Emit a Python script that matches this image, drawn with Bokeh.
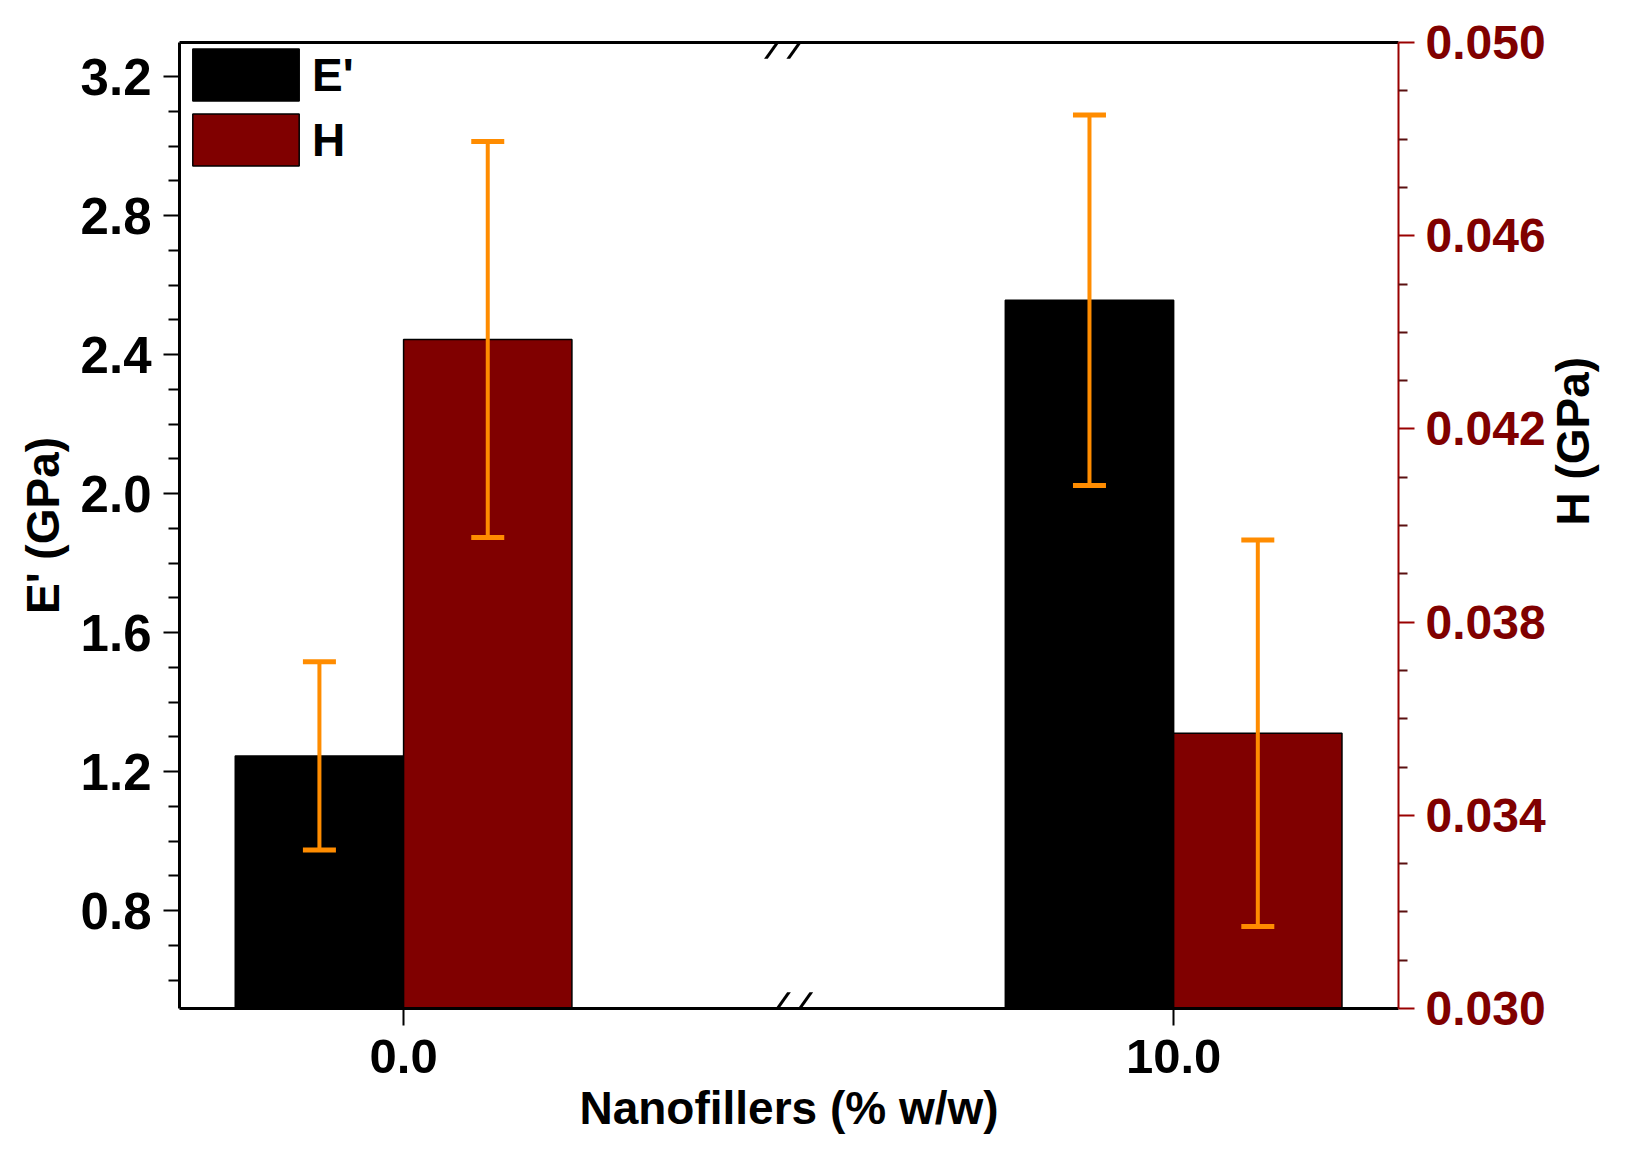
import math
import numpy as np
from bokeh.plotting import figure
from bokeh.models import (Range1d, LinearAxis, FixedTicker, ColumnDataSource, Whisker,
                          TeeHead, Legend, LegendItem, PolyAnnotation,
                          NumeralTickFormatter)
from bokeh.embed import file_html
from bokeh.resources import INLINE

# ---- data ----
categories = ["0.0", "10.0"]
E_mod = [1.245, 2.556]        # E' (GPa), left axis
E_err = [0.271, 0.533]
H_val = [0.04385, 0.0357]     # H (GPa), right axis
H_err = [0.0041, 0.0040]

left_ticks = [0.8, 1.2, 1.6, 2.0, 2.4, 2.8, 3.2]
left_minor = [0.6, 0.7, 0.9, 1.0, 1.1, 1.3, 1.4, 1.5, 1.7, 1.8, 1.9, 2.1, 2.2, 2.3,
              2.5, 2.6, 2.7, 2.9, 3.0, 3.1]
right_ticks = [0.030, 0.034, 0.038, 0.042, 0.046, 0.050]
right_minor = [0.031, 0.032, 0.033, 0.035, 0.036, 0.037, 0.039, 0.040, 0.041,
               0.043, 0.044, 0.045, 0.047, 0.048, 0.049]

FONT = "Liberation Sans"
RED = "#800000"
ORANGE = "#ff8c00"
bar_w = 0.2186

idx = np.arange(len(categories))
x_e = idx - bar_w / 2
x_h = idx + bar_w / 2

y_lo, y_hi = 0.518, 3.298

p = figure(width=1627, height=1139, output_backend="svg", toolbar_location=None,
           x_range=Range1d(-0.291, 1.292), y_range=Range1d(y_lo, y_hi),
           min_border_left=179, min_border_top=42, min_border_right=224,
           min_border_bottom=131)
p.extra_y_ranges = {"h": Range1d(0.030, 0.050)}
p.outline_line_color = None
p.xgrid.visible = False
p.ygrid.visible = False
p.background_fill_color = "white"

src_e = ColumnDataSource(dict(x=x_e, top=E_mod,
                              upper=np.array(E_mod) + np.array(E_err),
                              lower=np.array(E_mod) - np.array(E_err)))
src_h = ColumnDataSource(dict(x=x_h, top=H_val,
                              upper=np.array(H_val) + np.array(H_err),
                              lower=np.array(H_val) - np.array(H_err)))

r_e = p.vbar(x="x", top="top", bottom=y_lo, width=bar_w, source=src_e,
             fill_color="black", line_color="black", line_width=1.5)
r_h = p.vbar(x="x", top="top", bottom=0.030, width=bar_w, source=src_h,
             y_range_name="h", fill_color=RED, line_color="black", line_width=1.5)

for src, rn in ((src_e, "default"), (src_h, "h")):
    w = Whisker(base="x", upper="upper", lower="lower", source=src, y_range_name=rn,
                level="overlay", line_color=ORANGE, line_width=4,
                upper_head=TeeHead(size=33, line_color=ORANGE, line_width=5),
                lower_head=TeeHead(size=33, line_color=ORANGE, line_width=5))
    p.add_layout(w)

# ---- axes ----
xa = p.xaxis[0]
xa.ticker = FixedTicker(ticks=list(idx))
xa.major_label_overrides = {int(i): c for i, c in zip(idx, categories)}
xa.minor_tick_line_color = None
xa.major_tick_in = 0
xa.major_tick_out = 17
xa.major_tick_line_width = 2
xa.axis_line_width = 3
xa.axis_label = "Nanofillers (% w/w)"
xa.axis_label_text_font = FONT
xa.axis_label_text_font_style = "bold"
xa.axis_label_text_font_size = "46px"
xa.axis_label_text_color = "black"
xa.axis_label_standoff = 6
xa.major_label_text_font = FONT
xa.major_label_text_font_style = "bold"
xa.major_label_text_font_size = "49px"
xa.major_label_text_color = "black"
xa.major_label_standoff = 14

ya = p.yaxis[0]
ya.ticker = FixedTicker(ticks=left_ticks, minor_ticks=left_minor)
ya.formatter = NumeralTickFormatter(format="0.0")
ya.axis_line_width = 3
ya.major_tick_in = 0
ya.major_tick_out = 16
ya.major_tick_line_width = 2
ya.minor_tick_in = 0
ya.minor_tick_out = 11
ya.minor_tick_line_width = 2
ya.axis_label = "E' (GPa)"
ya.axis_label_text_font = FONT
ya.axis_label_text_font_style = "bold"
ya.axis_label_text_font_size = "46px"
ya.axis_label_text_color = "black"
ya.axis_label_standoff = 9
ya.major_label_text_font = FONT
ya.major_label_text_font_style = "bold"
ya.major_label_text_font_size = "51px"
ya.major_label_text_color = "black"
ya.major_label_standoff = 12

ra = LinearAxis(y_range_name="h",
                ticker=FixedTicker(ticks=right_ticks, minor_ticks=right_minor),
                formatter=NumeralTickFormatter(format="0.000"))
ra.axis_line_color = "#990000"
ra.axis_line_width = 2
ra.major_tick_in = 0
ra.major_tick_out = 16
ra.major_tick_line_color = "#990000"
ra.major_tick_line_width = 2
ra.minor_tick_in = 0
ra.minor_tick_out = 9
ra.minor_tick_line_color = "#5a1010"
ra.minor_tick_line_width = 2
ra.major_label_text_color = RED
ra.major_label_text_font = FONT
ra.major_label_text_font_style = "bold"
ra.major_label_text_font_size = "48px"
ra.major_label_standoff = 11
ra.axis_label = "H (GPa)"
ra.axis_label_orientation = math.pi / 2
ra.axis_label_text_font = FONT
ra.axis_label_text_font_style = "bold"
ra.axis_label_text_font_size = "46px"
ra.axis_label_text_color = "black"
ra.axis_label_standoff = 24
p.add_layout(ra, "right")

ta = LinearAxis(ticker=FixedTicker(ticks=[]))
ta.axis_line_width = 3
ta.major_tick_line_color = None
ta.minor_tick_line_color = None
ta.major_label_text_font_size = "0px"
p.add_layout(ta, "above")

# ---- axis-break marks (thin slanted parallelograms) ----
mid = (idx[0] + idx[-1]) / 2
dx, dy, sep, t = 0.015, 0.047, 0.0145, 0.0024
for yb in (y_lo, y_hi):
    for s in (-sep, sep):
        cx = mid + s
        p.add_layout(PolyAnnotation(
            xs=[cx - dx - t, cx - dx + t, cx + dx + t, cx + dx - t],
            ys=[yb - dy, yb - dy, yb + dy, yb + dy],
            fill_color="black", fill_alpha=1, line_color=None, level="overlay"))

# ---- legend ----
leg = Legend(items=[LegendItem(label="E'", renderers=[r_e]),
                    LegendItem(label="H", renderers=[r_h])],
             location="top_left", margin=0, padding=0, spacing=-6,
             glyph_width=133, glyph_height=65, label_height=65,
             label_standoff=-5, border_line_alpha=0, background_fill_alpha=0,
             label_text_font=FONT, label_text_font_style="bold",
             label_text_font_size="46px", label_text_color="black")
p.add_layout(leg)

open("out.html", "w").write(file_html(p, INLINE))
